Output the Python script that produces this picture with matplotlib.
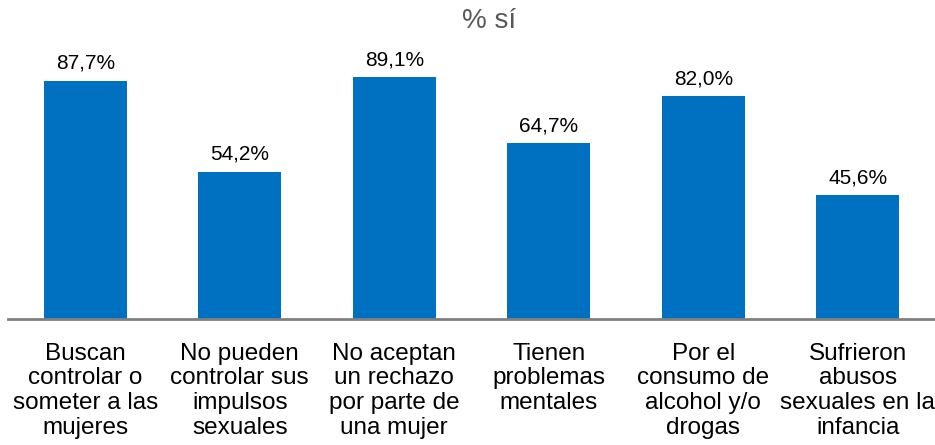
import matplotlib.pyplot as plt

plt.rcParams['font.family'] = ['Liberation Sans', 'DejaVu Sans']

categorias = [
    "Buscan\ncontrolar o\nsometer a las\nmujeres",
    "No pueden\ncontrolar sus\nimpulsos\nsexuales",
    "No aceptan\nun rechazo\npor parte de\nuna mujer",
    "Tienen\nproblemas\nmentales",
    "Por el\nconsumo de\nalcohol y/o\ndrogas",
    "Sufrieron\nabusos\nsexuales en la\ninfancia",
]
valores = [87.7, 54.2, 89.1, 64.7, 82.0, 45.6]

W, H = 935, 445
fig = plt.figure(figsize=(W / 100, H / 100), dpi=100)
ax = fig.add_axes([8 / W, (H - 319) / H, 1 - 8 / W, 319 / H])

x = range(len(valores))
bars = ax.bar(x, valores, width=0.54, color='#0070C0')
for b, v in zip(bars, valores):
    ax.text(b.get_x() + b.get_width() / 2, v + 4.4, f"{v:.1f}%".replace('.', ','),
            ha='center', va='baseline', fontsize=15, color='#000000')

ax.set_xlim(-0.5, len(valores) - 0.5)
ax.set_ylim(0, 117.5)
ax.set_xticks(list(x))
ax.set_xticklabels(categorias, fontsize=17.5, linespacing=1.16)
ax.tick_params(axis='x', length=0, pad=17)
ax.set_yticks([])
for s in ['top', 'right', 'left']:
    ax.spines[s].set_visible(False)
ax.spines['bottom'].set_color('#808080')
ax.spines['bottom'].set_linewidth(2)

fig.text(489 / W, 1 - 21 / H, "% sí", ha='center', va='center', fontsize=20, color='#595959')

fig.savefig('out.png', dpi=100)
